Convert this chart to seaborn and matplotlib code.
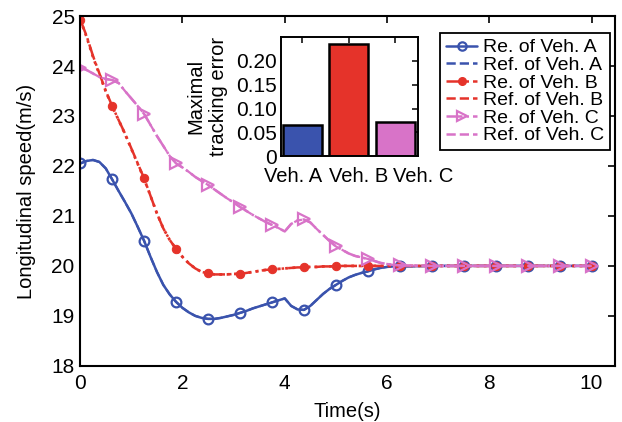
import numpy as np
import pandas as pd
import matplotlib
matplotlib.use("Agg")
import matplotlib.pyplot as plt
from matplotlib.lines import Line2D
import seaborn as sns

# ---------------- data ----------------
time_s = [0.0, 0.125, 0.25, 0.375, 0.5, 0.625, 0.75, 0.875, 1.0, 1.125,
          1.25, 1.375, 1.5, 1.625, 1.75, 1.875, 2.0, 2.125, 2.25, 2.375,
          2.5, 2.625, 2.75, 2.875, 3.0, 3.125, 3.25, 3.375, 3.5, 3.625,
          3.75, 3.875, 4.0, 4.125, 4.25, 4.375, 4.5, 4.625, 4.75, 4.875,
          5.0, 5.125, 5.25, 5.375, 5.5, 5.625, 5.75, 5.875, 6.0, 6.125,
          6.25, 6.875, 7.5, 8.125, 8.75, 9.375, 10.0]

re_a = [22.05, 22.10, 22.12, 22.08, 21.95, 21.73, 21.50, 21.28, 21.05, 20.78,
        20.50, 20.18, 19.88, 19.62, 19.43, 19.28, 19.16, 19.07, 19.00, 18.96,
        18.94, 18.94, 18.96, 18.99, 19.02, 19.06, 19.10, 19.15, 19.19, 19.23,
        19.27, 19.31, 19.35, 19.20, 19.13, 19.12, 19.20, 19.32, 19.44, 19.54,
        19.62, 19.70, 19.77, 19.82, 19.86, 19.89, 19.93, 19.96, 19.98, 19.99,
        19.99, 20.00, 20.00, 20.00, 20.00, 20.00, 20.00]
ref_a = [22.05, 22.10, 22.12, 22.08, 21.95, 21.73, 21.50, 21.28, 21.05, 20.78,
         20.50, 20.18, 19.88, 19.62, 19.43, 19.28, 19.16, 19.07, 19.00, 18.96,
         18.94, 18.94, 18.96, 18.99, 19.02, 19.06, 19.10, 19.15, 19.19, 19.23,
         19.27, 19.31, 19.35, 19.20, 19.13, 19.12, 19.20, 19.32, 19.44, 19.54,
         19.62, 19.70, 19.77, 19.82, 19.86, 19.89, 19.93, 19.96, 19.98, 19.99,
         19.99, 20.00, 20.00, 20.00, 20.00, 20.00, 20.00]

re_b = [24.93, 24.60, 24.20, 23.85, 23.50, 23.20, 22.92, 22.65, 22.35, 22.05,
        21.75, 21.40, 21.05, 20.75, 20.52, 20.34, 20.18, 20.05, 19.95, 19.88,
        19.85, 19.83, 19.83, 19.83, 19.84, 19.84, 19.86, 19.88, 19.90, 19.92,
        19.93, 19.94, 19.95, 19.96, 19.97, 19.97, 19.98, 19.98, 19.99, 19.99,
        19.99, 20.00, 20.00, 20.00, 20.00, 20.00, 20.00, 20.00, 20.00, 20.00,
        20.00, 20.00, 20.00, 20.00, 20.00, 20.00, 20.00]
ref_b = [24.93, 24.58, 24.18, 23.83, 23.49, 23.19, 22.92, 22.64, 22.34, 22.04,
         21.74, 21.40, 21.05, 20.75, 20.52, 20.34, 20.18, 20.05, 19.95, 19.88,
         19.85, 19.83, 19.83, 19.83, 19.84, 19.84, 19.86, 19.88, 19.90, 19.92,
         19.93, 19.94, 19.95, 19.96, 19.97, 19.97, 19.98, 19.98, 19.99, 19.99,
         19.99, 20.00, 20.00, 20.00, 20.00, 20.00, 20.00, 20.00, 20.00, 20.00,
         20.00, 20.00, 20.00, 20.00, 20.00, 20.00, 20.00]

re_c = [23.97, 23.92, 23.85, 23.78, 23.74, 23.72, 23.66, 23.50, 23.35, 23.20,
        23.04, 22.82, 22.60, 22.40, 22.20, 22.05, 21.97, 21.88, 21.78, 21.70,
        21.62, 21.53, 21.44, 21.35, 21.27, 21.18, 21.10, 21.02, 20.95, 20.88,
        20.82, 20.76, 20.69, 20.84, 20.91, 20.93, 20.87, 20.74, 20.62, 20.50,
        20.39, 20.32, 20.25, 20.20, 20.17, 20.14, 20.10, 20.06, 20.04, 20.02,
        20.01, 20.00, 20.00, 20.00, 20.00, 20.00, 20.00]
ref_c = [23.97, 23.92, 23.85, 23.78, 23.74, 23.72, 23.66, 23.50, 23.35, 23.20,
         23.04, 22.82, 22.60, 22.40, 22.20, 22.05, 21.97, 21.88, 21.78, 21.70,
         21.62, 21.53, 21.44, 21.35, 21.27, 21.18, 21.10, 21.02, 20.95, 20.88,
         20.82, 20.76, 20.69, 20.84, 20.91, 20.93, 20.87, 20.74, 20.62, 20.50,
         20.39, 20.32, 20.25, 20.20, 20.17, 20.14, 20.10, 20.06, 20.04, 20.02,
         20.01, 20.00, 20.00, 20.00, 20.00, 20.00, 20.00]

vehicles = ["Veh. A", "Veh. B", "Veh. C"]
max_error = [0.065, 0.236, 0.071]

x_ticks = [0, 2, 4, 6, 8, 10]
y_ticks = [18, 19, 20, 21, 22, 23, 24, 25]
inset_ticks = [0, 0.05, 0.10, 0.15, 0.20]
inset_tick_labels = ["0", "0.05", "0.10", "0.15", "0.20"]
legend_labels = ["Re. of Veh. A", "Ref. of Veh. A", "Re. of Veh. B",
                 "Ref. of Veh. B", "Re. of Veh. C", "Ref. of Veh. C"]

# ---------------- style ----------------
sns.set_theme(style="white")
plt.rcParams["font.family"] = ["Liberation Sans", "DejaVu Sans"]
for k in ["text.color", "axes.labelcolor", "xtick.color", "ytick.color",
          "axes.edgecolor"]:
    plt.rcParams[k] = "black"

BLUE = "#3a53ad"
RED = "#e5332a"
MAG = "#d873c8"

marker_idx = list(range(0, 51, 5)) + list(range(51, 57))

fig = plt.figure(figsize=(6.22, 4.22), dpi=100)
ax = fig.add_axes([0.129, 0.133, 0.859, 0.829])

common = dict(ax=ax, estimator=None, sort=False, legend=False)
sns.lineplot(x=time_s, y=re_a, color=BLUE, linestyle="-", lw=1.8, marker="o",
             markersize=7, markerfacecolor="none", markeredgecolor=BLUE,
             markeredgewidth=1.6, markevery=marker_idx, **common)
sns.lineplot(x=time_s, y=ref_a, color=BLUE, linestyle="--", lw=1.6, **common)
sns.lineplot(x=time_s, y=re_b, color=RED, linestyle="-.", lw=1.8, marker="o",
             markersize=6, markerfacecolor=RED, markeredgecolor=RED,
             markevery=marker_idx, **common)
sns.lineplot(x=time_s, y=ref_b, color=RED, linestyle=":", lw=2.0, **common)
sns.lineplot(x=time_s, y=re_c, color=MAG, linestyle="-.", lw=1.8, marker=">",
             markersize=8, markerfacecolor="none", markeredgecolor=MAG,
             markeredgewidth=1.6, markevery=marker_idx, **common)
sns.lineplot(x=time_s, y=ref_c, color=MAG, linestyle="--", lw=1.6, **common)

ax.set_xlim(0, 10.45)
ax.set_ylim(18, 25)
ax.set_xticks(x_ticks)
ax.set_yticks(y_ticks)
ax.tick_params(direction="in", top=True, right=True, length=5, width=1.2,
               labelsize=15, pad=4)
ax.tick_params(axis="x", pad=6)
for s in ax.spines.values():
    s.set_linewidth(1.5)
    s.set_color("black")
ax.set_xlabel("Time(s)", fontsize=14.5, labelpad=6)
ax.set_ylabel("Longitudinal speed(m/s)", fontsize=14.5, labelpad=11)

# legend
handles = [
    Line2D([], [], color=BLUE, ls="-", lw=1.8, marker="o", markersize=6,
           markerfacecolor="none", markeredgewidth=1.6),
    Line2D([], [], color=BLUE, ls="--", lw=1.8),
    Line2D([], [], color=RED, ls="-.", lw=1.8, marker="o", markersize=5.5,
           markerfacecolor=RED),
    Line2D([], [], color=RED, ls="--", lw=1.8),
    Line2D([], [], color=MAG, ls="-.", lw=1.8, marker=">", markersize=7.5,
           markerfacecolor="none", markeredgewidth=1.6),
    Line2D([], [], color=MAG, ls="--", lw=1.8),
]
leg = fig.legend(handles, legend_labels, loc="upper right",
                 bbox_to_anchor=(0.981, 0.922), bbox_transform=fig.transFigure,
                 fontsize=14, frameon=True, fancybox=False,
                 edgecolor="black", handlelength=1.6, handletextpad=0.3,
                 labelspacing=0.0, borderpad=0.3, borderaxespad=0)
leg.get_frame().set_linewidth(1.3)
leg.get_frame().set_alpha(1)

# inset bar chart
iax = fig.add_axes([0.452, 0.630, 0.220, 0.282])
bar_df = pd.DataFrame({"vehicle": vehicles, "error": max_error})
sns.barplot(data=bar_df, x="vehicle", y="error", hue="vehicle",
            palette=[BLUE, RED, MAG], saturation=1, width=0.84,
            edgecolor="black", linewidth=1.8, legend=False, ax=iax)
iax.set_ylim(0, 0.25)
iax.set_xlim(-0.46, 2.49)
iax.set_yticks(inset_ticks)
iax.set_yticklabels(inset_tick_labels)
iax.set_xticks([0, 1, 2])
iax.set_xticklabels([])
iax.tick_params(direction="in", top=True, right=True, length=4, width=1.1,
                labelsize=15, pad=3)
for xpos, name in zip([-0.21, 1.2, 2.6], vehicles):
    iax.text(xpos, -0.042, name, ha="center", va="center", fontsize=14.5,
             transform=iax.transData, clip_on=False)
for s in iax.spines.values():
    s.set_linewidth(1.4)
    s.set_color("black")
iax.set_xlabel("")
iax.set_ylabel("Maximal\ntracking error", fontsize=14.5, labelpad=6,
               linespacing=1.2)
iax.set_facecolor("white")

fig.savefig("out.png", dpi=100)
